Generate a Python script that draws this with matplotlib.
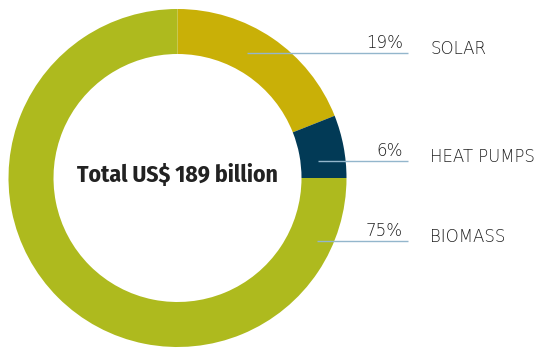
import matplotlib
matplotlib.use("Agg")
import matplotlib.pyplot as plt
from matplotlib import font_manager

categories = ["SOLAR", "HEAT PUMPS", "BIOMASS"]
shares = [19, 6, 75]
pct_labels = ["19%", "6%", "75%"]
colors = ["#C9B007", "#023A56", "#AEBA1E"]
center_title = "Total US$ 189 billion"

names = {f.name for f in font_manager.fontManager.ttflist}


def pick(*cands):
    for c in cands:
        if c in names:
            return c
    return "DejaVu Sans"


cond = pick("Fira Sans Condensed", "Roboto Condensed", "Barlow Semi Condensed", "Barlow Condensed")
light = "DejaVu Sans"

W, H = 548, 348
fig = plt.figure(figsize=(W / 100, H / 100), dpi=100)
ax = fig.add_axes([0, 0, 1, 1])

cx, cy = 177.5, H - 178
R, ring = 169, 45
ax.pie(shares, colors=colors, startangle=90, counterclock=False,
       center=(cx, cy), radius=R, frame=True,
       wedgeprops=dict(width=ring, linewidth=0))
ax.set_xlim(0, W)
ax.set_ylim(0, H)
ax.set_aspect("equal")
ax.axis("off")

# leader lines / labels (layout in pixel coords, y from top)
line_y = [53, 160.5, 240.5]
line_x0 = [247, 318, 317]
label_y = [54, 162, 242]
line_x1 = 408
for cat, pct, ly, lx0, ty in zip(categories, pct_labels, line_y, line_x0, label_y):
    y = H - ly
    ax.plot([lx0, line_x1], [y, y], color="#93B6CC", lw=1.0, solid_capstyle="butt")
    ax.text(403, y + 5, pct, ha="right", va="baseline", fontsize=12,
            color="#1e1e1e", family=light, fontweight=200)
    ax.text(430, H - ty, cat, ha="left", va="baseline",
            fontsize=12, color="#222222", family=light, fontweight=200)

ax.text(cx, H - 182, center_title, ha="center", va="baseline", fontsize=17,
        fontweight="bold", color="#222222", family=cond)

fig.savefig("out.png", dpi=100)
